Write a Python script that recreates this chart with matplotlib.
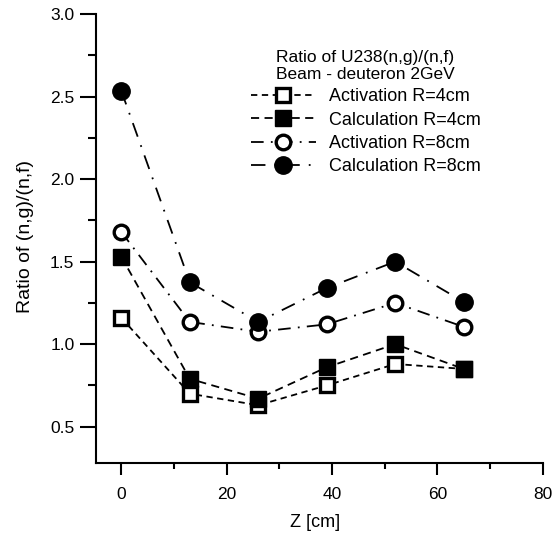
import matplotlib
matplotlib.use("Agg")
import matplotlib.pyplot as plt
from matplotlib.ticker import MultipleLocator, FormatStrFormatter

plt.rcParams['font.family'] = ['Liberation Sans', 'DejaVu Sans']

z = [0, 13, 26, 39, 52, 65]
act_r4 = [1.16, 0.70, 0.63, 0.75, 0.88, 0.85]
calc_r4 = [1.53, 0.79, 0.67, 0.86, 1.00, 0.85]
act_r8 = [1.68, 1.135, 1.075, 1.12, 1.25, 1.105]
calc_r8 = [2.535, 1.375, 1.135, 1.34, 1.50, 1.256]

legend_title = "Ratio of U238(n,g)/(n,f)\nBeam - deuteron 2GeV"
labels = ["Activation R=4cm", "Calculation R=4cm", "Activation R=8cm", "Calculation R=8cm"]

fig = plt.figure(figsize=(5.53, 5.33), dpi=100)
ax = fig.add_axes([0.1736, 0.1313, 0.9813 - 0.1736, 0.9737 - 0.1313])

lw = 1.3
ax.plot(z, act_r4, color='black', lw=lw, linestyle=(0, (3.5, 2.5)), marker='s', ms=10.5,
        mfc='white', mec='black', mew=2.4, label=labels[0])
ax.plot(z, calc_r4, color='black', lw=lw, linestyle=(0, (4.5, 3)), marker='s', ms=12,
        mfc='black', mec='black', label=labels[1])
ax.plot(z, act_r8, color='black', lw=lw, linestyle=(0, (7, 4, 1, 4)), marker='o', ms=10.5,
        mfc='white', mec='black', mew=2.4, label=labels[2])
ax.plot(z, calc_r8, color='black', lw=lw, linestyle=(0, (8, 5, 1, 5)), marker='o', ms=12.5,
        mfc='black', mec='black', label=labels[3])

ax.set_xlim(-4.8, 80)
ax.set_ylim(0.28, 3.0)
ax.xaxis.set_major_locator(MultipleLocator(20))
ax.xaxis.set_minor_locator(MultipleLocator(10))
ax.yaxis.set_major_locator(MultipleLocator(0.5))
ax.yaxis.set_minor_locator(MultipleLocator(0.25))
ax.yaxis.set_major_formatter(FormatStrFormatter('%.1f'))

for s in ['top', 'right']:
    ax.spines[s].set_visible(False)
for s in ['left', 'bottom']:
    ax.spines[s].set_linewidth(1.5)

ax.tick_params(axis='x', which='major', direction='out', length=8.5, width=1.5, labelsize=12.5, pad=9)
ax.tick_params(axis='x', which='minor', direction='out', length=4.3, width=1.5)
ax.tick_params(axis='y', which='major', direction='out', length=11.5, width=1.5, labelsize=12.5, pad=4)
ax.tick_params(axis='y', which='minor', direction='out', length=5.5, width=1.5)

ax.set_xlabel("Z [cm]", fontsize=13)
ax.set_ylabel("Ratio of (n,g)/(n,f)", fontsize=14)
ax.xaxis.set_label_coords(0.49, -0.113)
ax.yaxis.set_label_coords(-0.139, 0.505)

leg = ax.legend(title=legend_title, loc='upper left', bbox_to_anchor=(238 / 553, 1 - 37 / 533),
                bbox_transform=fig.transFigure, frameon=False, fontsize=13, title_fontsize=12.5,
                handlelength=3.6, handletextpad=0.75, labelspacing=0.35, borderpad=0.2)
leg._legend_box.align = "center"

fig.savefig("out.png", dpi=100)
